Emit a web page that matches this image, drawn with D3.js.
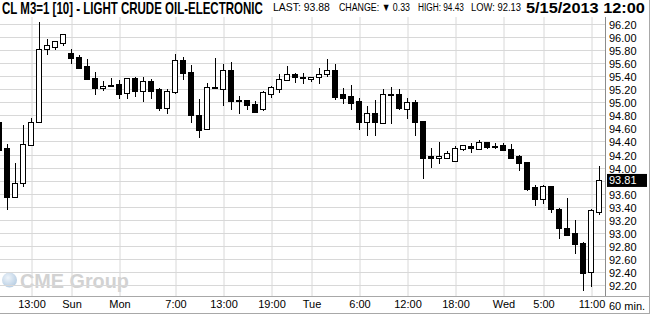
<!DOCTYPE html>
<html><head><meta charset="utf-8">
<script src="https://cdn.jsdelivr.net/npm/d3@7"></script>
<style>html,body{margin:0;padding:0;background:#fff;}svg{display:block;}</style>
</head><body>
<script>
// ---- data ----
const categories = [
 "Fri 9:00","Fri 10:00","Fri 11:00","Fri 12:00","Fri 13:00","Fri 14:00","Fri 15:00","Fri 16:00","Fri 17:00",
 "Sun 18:00","Sun 19:00","Sun 20:00","Sun 21:00","Sun 22:00","Sun 23:00",
 "Mon 0:00","Mon 1:00","Mon 2:00","Mon 3:00","Mon 4:00","Mon 5:00","Mon 6:00","Mon 7:00","Mon 8:00","Mon 9:00","Mon 10:00","Mon 11:00",
 "Mon 12:00","Mon 13:00","Mon 14:00","Mon 15:00","Mon 16:00","Mon 17:00","Mon 18:00","Mon 19:00","Mon 20:00","Mon 21:00","Mon 22:00","Mon 23:00",
 "Tue 0:00","Tue 1:00","Tue 2:00","Tue 3:00","Tue 4:00","Tue 5:00","Tue 6:00","Tue 7:00","Tue 8:00","Tue 9:00","Tue 10:00","Tue 11:00",
 "Tue 12:00","Tue 13:00","Tue 14:00","Tue 15:00","Tue 16:00","Tue 17:00","Tue 18:00","Tue 19:00","Tue 20:00","Tue 21:00","Tue 22:00","Tue 23:00",
 "Wed 0:00","Wed 1:00","Wed 2:00","Wed 3:00","Wed 4:00","Wed 5:00","Wed 6:00","Wed 7:00","Wed 8:00","Wed 9:00","Wed 10:00","Wed 11:00","Wed 12:00"
];
const openVals = [94.71,94.30,93.56,93.77,94.35,94.70,95.83,95.85,95.91,95.76,95.70,95.56,95.38,95.22,95.27,95.29,95.15,95.38,95.18,95.33,
 95.21,94.92,95.16,95.65,95.47,94.81,94.60,95.24,95.21,95.50,95.04,95.04,94.98,94.91,95.13,95.21,95.35,95.44,95.40,95.36,
 95.39,95.44,95.50,95.14,95.11,95.03,94.71,94.85,94.69,95.14,95.14,94.91,95.01,94.72,94.19,94.15,94.15,94.11,94.29,94.34,
 94.29,94.40,94.34,94.35,94.29,94.19,94.09,93.71,93.53,93.72,93.37,93.08,93.00,92.85,92.41,93.32];
const highVals = [94.78,94.37,94.07,94.66,94.76,96.24,95.98,95.94,96.05,95.82,95.73,95.67,95.47,95.33,95.38,95.35,95.38,95.39,95.39,95.36,
 95.22,95.21,95.75,95.70,95.58,95.06,95.30,95.68,95.60,95.62,95.10,95.05,95.02,95.18,95.26,95.44,95.56,95.46,95.46,95.40,
 95.53,95.67,95.59,95.22,95.27,95.07,94.95,95.04,95.21,95.24,95.21,95.07,95.05,94.72,94.30,94.40,94.26,94.34,94.36,94.38,
 94.43,94.40,94.38,94.38,94.37,94.20,94.09,93.74,93.74,93.72,93.39,93.54,93.21,92.87,93.38,94.03];
const lowVals = [94.25,93.37,93.56,93.72,94.35,94.70,95.75,95.83,95.88,95.61,95.54,95.36,95.14,95.20,95.25,95.07,95.08,95.11,95.03,95.07,
 94.89,94.85,95.15,95.37,94.71,94.47,94.60,95.22,94.97,94.91,94.85,94.91,94.86,94.89,95.09,95.17,95.35,95.32,95.30,95.33,
 95.31,95.41,95.06,95.00,94.91,94.60,94.51,94.50,94.69,94.69,94.91,94.76,94.51,93.84,94.01,94.08,94.15,94.11,94.28,94.25,
 94.29,94.30,94.30,94.27,94.16,93.97,93.67,93.44,93.47,93.33,92.93,92.97,92.70,92.13,92.19,93.30];
const closeVals = [94.28,93.56,93.77,94.37,94.71,95.83,95.88,95.94,96.05,95.69,95.54,95.36,95.22,95.26,95.25,95.14,95.38,95.18,95.33,95.18,
 94.92,95.18,95.65,95.45,94.81,94.58,95.24,95.22,95.50,95.03,95.02,94.96,94.86,95.16,95.24,95.36,95.44,95.39,95.39,95.40,
 95.44,95.50,95.09,95.08,94.99,94.71,94.85,94.70,95.14,95.12,94.92,95.01,94.71,94.15,94.15,94.19,94.23,94.30,94.35,94.31,
 94.40,94.32,94.32,94.27,94.16,94.07,93.68,93.53,93.72,93.37,93.08,92.98,92.83,92.39,93.35,93.81];
const yTicks = [92.2,92.4,92.6,92.8,93.0,93.2,93.4,93.6,93.8,94.0,94.2,94.4,94.6,94.8,95.0,95.2,95.4,95.6,95.8,96.0,96.2];
const tickCats = ["Fri 13:00","Sun 18:00","Mon 0:00","Mon 7:00","Mon 13:00","Mon 19:00","Tue 0:00","Tue 6:00","Tue 12:00","Tue 18:00","Wed 0:00","Wed 5:00","Wed 11:00"];
const tickLabels = ["13:00","Sun","Mon","7:00","13:00","19:00","Tue","6:00","12:00","18:00","Wed","5:00","11:00"];
const lastPrice = 93.81;
const titleText = "CL M3=1 [10] - LIGHT CRUDE OIL-ELECTRONIC";
const infoTexts = ["LAST: 93.88", "CHANGE: \u25BC 0.33", "HIGH: 94.43", "LOW: 92.13"];
const dateText = "5/15/2013 12:00";
const periodText = "60 min.";

// ---- layout ----
const W = 650, H = 314;
const plotTop = 17, plotBottom = 296, axisX = 605;
const FONT = "'Liberation Sans', Arial, sans-serif";

const svg = d3.select("body").append("svg").attr("width", W).attr("height", H);
const defs = svg.append("defs");

// fit a text horizontally into [x0, x0+width] by scaling its glyphs
function fitText(parent, str, x0, yb, width, size, weight, fill) {
  const g = parent.append("g");
  const t = g.append("text").attr("x", 0).attr("y", 0)
    .attr("font-family", FONT).attr("font-size", size).attr("font-weight", weight || "normal")
    .attr("fill", fill || "#000").text(str);
  const len = t.node().getComputedTextLength() || width;
  g.attr("transform", `translate(${x0},${yb}) scale(${width / len},1)`);
  return g;
}

const data = categories.map((c, i) => ({c, o: openVals[i], h: highVals[i], l: lowVals[i], cl: closeVals[i]}));
const x = d3.scalePoint().domain(categories).range([-1, 599]);
const y = d3.scaleLinear().domain([92.2, 96.2]).range([285.5, 24.5]);
const py = v => Math.round(y(v) - 0.5) + 0.5;

defs.append("clipPath").attr("id", "plot")
  .append("rect").attr("x", 0).attr("y", plotTop).attr("width", axisX).attr("height", plotBottom - plotTop);

// CME logo watermark
const logo = svg.append("g");
const grad = defs.append("radialGradient").attr("id", "globe").attr("cx", "40%").attr("cy", "35%").attr("r", "70%");
grad.append("stop").attr("offset", "0%").attr("stop-color", "#eef4fa");
grad.append("stop").attr("offset", "100%").attr("stop-color", "#b5cce2");
logo.append("circle").attr("cx", 9.5).attr("cy", 280).attr("r", 7.5).attr("fill", "url(#globe)");
fitText(logo, "CME Group", 20, 287.5, 109, 20, "bold", "#d2d2d2");

// horizontal grid
svg.append("g").selectAll("line").data(yTicks).join("line")
  .attr("x1", 0).attr("x2", axisX).attr("y1", d => py(d)).attr("y2", d => py(d))
  .attr("stroke", "#d8d8d8").attr("stroke-width", 1);

// vertical grid + x labels via axis
const xAxis = d3.axisBottom(x).tickValues(tickCats).tickFormat((d, i) => tickLabels[i])
  .tickSize(-(plotBottom - plotTop)).tickSizeOuter(0).tickPadding(6);
const gx = svg.append("g").attr("transform", `translate(0.5,${plotBottom})`).call(xAxis);
gx.select(".domain").remove();
gx.selectAll(".tick line").attr("stroke", "#d8d8d8");
gx.selectAll(".tick text").attr("font-family", FONT).attr("font-size", 11).attr("fill", "#000").attr("dy", "0.55em");

// candles
const cg = svg.append("g").attr("clip-path", "url(#plot)");
const cand = cg.selectAll("g").data(data).join("g");
cand.append("line")
  .attr("x1", d => Math.round(x(d.c)) + 0.5).attr("x2", d => Math.round(x(d.c)) + 0.5)
  .attr("y1", d => Math.round(y(d.h))).attr("y2", d => Math.round(y(d.l)) + 1)
  .attr("stroke", "#000").attr("stroke-width", 1);
cand.append("rect")
  .attr("x", d => d.cl >= d.o ? Math.round(x(d.c)) - 2.5 : Math.round(x(d.c)) - 3)
  .attr("width", d => d.cl >= d.o ? 5 : 6)
  .attr("y", d => {
    const t = Math.round(y(Math.max(d.o, d.cl)));
    return d.cl >= d.o ? t + 0.5 : t;
  })
  .attr("height", d => {
    const t = Math.round(y(Math.max(d.o, d.cl))), b = Math.round(y(Math.min(d.o, d.cl)));
    return d.cl >= d.o ? Math.max(b - t, 1) : Math.max(b - t + 1, 2);
  })
  .attr("fill", d => d.cl >= d.o ? "#fff" : "#000")
  .attr("stroke", d => d.cl >= d.o ? "#000" : "none")
  .attr("stroke-width", 1);

// y axis line + labels
svg.append("line").attr("x1", axisX + 0.5).attr("x2", axisX + 0.5).attr("y1", plotTop).attr("y2", plotBottom)
  .attr("stroke", "#8c8c8c");
const yAxis = d3.axisRight(y).tickValues(yTicks.filter(v => Math.abs(v - 93.8) > 0.01))
  .tickFormat(d3.format(".2f")).tickSize(0).tickPadding(4);
const gy = svg.append("g").attr("transform", `translate(${axisX},0.5)`).call(yAxis);
gy.select(".domain").remove();
gy.selectAll(".tick text").attr("font-family", FONT).attr("font-size", 11).attr("fill", "#000");

// last price marker
const lp = svg.append("g").attr("transform", `translate(${axisX + 2},${y(lastPrice)})`);
lp.append("rect").attr("x", 0).attr("y", -6.5).attr("width", 40).attr("height", 13).attr("fill", "#000");
lp.append("text").attr("x", 2).attr("y", 0).attr("dy", "0.36em").attr("font-family", FONT).attr("font-size", 11)
  .attr("fill", "#fff").text(d3.format(".2f")(lastPrice));

// frame lines
svg.append("line").attr("x1", 0).attr("x2", W).attr("y1", plotBottom + 0.5).attr("y2", plotBottom + 0.5).attr("stroke", "#a8a8a8");
svg.append("line").attr("x1", 0).attr("x2", W).attr("y1", H - 0.5).attr("y2", H - 0.5).attr("stroke", "#a8a8a8");
svg.append("line").attr("x1", W - 0.5).attr("x2", W - 0.5).attr("y1", 0).attr("y2", H).attr("stroke", "#a8a8a8");

// period label
svg.append("text").attr("x", 609).attr("y", 310).attr("font-family", FONT).attr("font-size", 11).text(periodText);

// header
const hdr = svg.append("g");
fitText(hdr, titleText, 2, 14, 261, 16, "bold");
const infoX = [273, 339, 418, 471], infoW = [57, 71, 46, 50];
infoTexts.forEach((s, i) => fitText(hdr, s, infoX[i], 11, infoW[i], 11, "normal"));
fitText(hdr, dateText, 526, 12.5, 119, 15, "bold");
</script>
</body></html>
